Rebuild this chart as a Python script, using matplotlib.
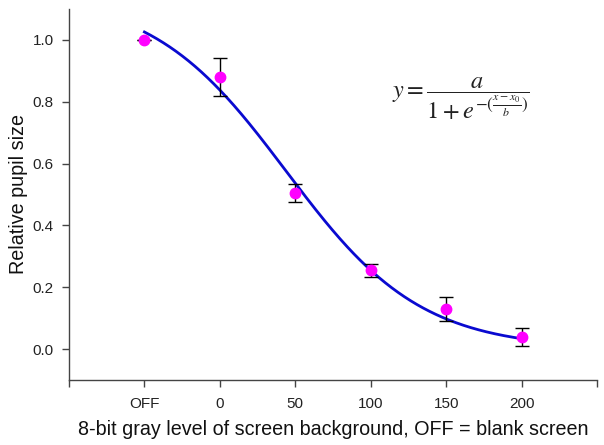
import numpy as np
import matplotlib
matplotlib.use("Agg")
import matplotlib.pyplot as plt

plt.rcParams['font.family'] = ['Liberation Sans', 'DejaVu Sans']
plt.rcParams['mathtext.fontset'] = 'stix'

# data
x_vals = [-50, 0, 50, 100, 150, 200]          # -50 stands for OFF
means = [1.0, 0.879, 0.505, 0.255, 0.129, 0.038]
errs = [0.0, 0.062, 0.029, 0.021, 0.039, 0.029]
tick_pos = [-100, -50, 0, 50, 100, 150, 200, 250]
tick_labels = ['', 'OFF', '0', '50', '100', '150', '200', '']
y_ticks = [0.0, 0.2, 0.4, 0.6, 0.8, 1.0]
# sigmoid fit parameters
fit_a, fit_x0, fit_b = 1.15, 44.0, 44.6

fig = plt.figure(figsize=(6.04, 4.45), dpi=100)
ax = fig.add_axes([0.1142, 0.146, 0.8742, 0.834])

xc = np.linspace(x_vals[0], x_vals[-1], 300)
yc = fit_a / (1 + np.exp((xc - fit_x0) / fit_b))
ax.plot(xc, yc, color='#0a0ad0', lw=2.0, zorder=2)
ax.errorbar(x_vals, means, yerr=errs, fmt='none', ecolor='black', elinewidth=1.0,
            capsize=4.8, capthick=1.0, zorder=3)
ax.plot(x_vals, means, 'o', color='#ff00ff', markersize=7.5, zorder=4)

ax.set_xlim(-100, 250)
ax.set_ylim(-0.1, 1.1)
ax.set_xticks(tick_pos)
ax.set_xticklabels(tick_labels)
ax.set_yticks(y_ticks)
ax.set_yticklabels([f'{v:.1f}' for v in y_ticks])
for s in ['top', 'right']:
    ax.spines[s].set_visible(False)
for s in ['left', 'bottom']:
    ax.spines[s].set_color('#444444')
    ax.spines[s].set_linewidth(1.0)
ax.tick_params(direction='out', length=5, width=1.0, color='#444444',
               labelsize=11, labelcolor='#222222', pad=6)
ax.tick_params(axis='x', pad=7)
ax.set_xlabel('8-bit gray level of screen background, OFF = blank screen',
              fontsize=14.2, color='#111111', labelpad=7)
ax.set_ylabel('Relative pupil size', fontsize=14.2, color='#111111', labelpad=3)

ax.text(0.742, 0.757, r'$y=\dfrac{a}{1+e^{-(\frac{x-x_0}{b})}}$',
        transform=ax.transAxes, fontsize=17.5, ha='center', va='center', color='#222222')

fig.savefig('out.png', dpi=100)
